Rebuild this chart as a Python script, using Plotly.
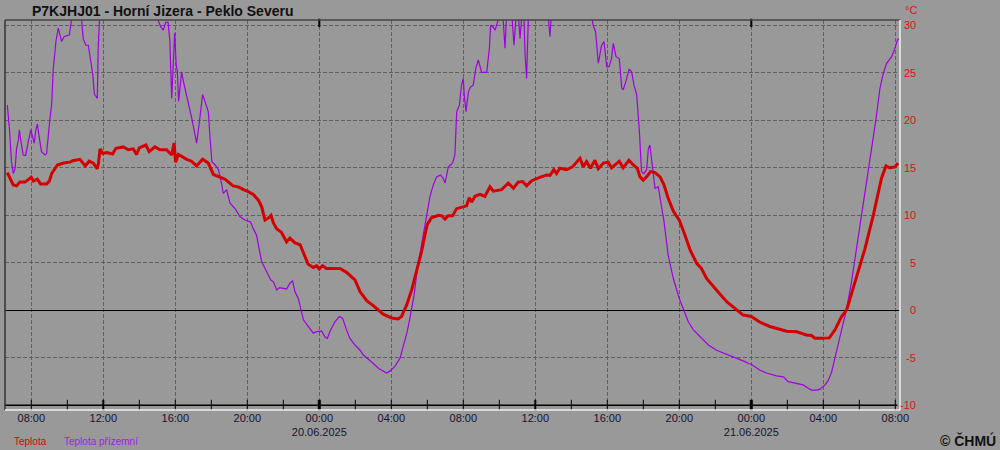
import plotly.graph_objects as go
import pandas as pd

# ---------------- data ----------------
title_text = "P7KJHJ01 - Horní Jizera - Peklo Severu"
series_names = ["Teplota", "Teplota přízemní"]

red_time = [
    "2025-06-19 06:40", "2025-06-19 06:49", "2025-06-19 07:00", "2025-06-19 07:11", "2025-06-19 07:22",
    "2025-06-19 07:39", "2025-06-19 07:50", "2025-06-19 08:00", "2025-06-19 08:07", "2025-06-19 08:20",
    "2025-06-19 08:31", "2025-06-19 08:51", "2025-06-19 09:00", "2025-06-19 09:08", "2025-06-19 09:27",
    "2025-06-19 09:47", "2025-06-19 10:09", "2025-06-19 10:18", "2025-06-19 10:42", "2025-06-19 11:00",
    "2025-06-19 11:13", "2025-06-19 11:27", "2025-06-19 11:40", "2025-06-19 11:44", "2025-06-19 11:49",
    "2025-06-19 11:58", "2025-06-19 12:11", "2025-06-19 12:31", "2025-06-19 12:42", "2025-06-19 13:07",
    "2025-06-19 13:23", "2025-06-19 13:40", "2025-06-19 13:51", "2025-06-19 14:00", "2025-06-19 14:22",
    "2025-06-19 14:33", "2025-06-19 14:52", "2025-06-19 15:09", "2025-06-19 15:31", "2025-06-19 15:48",
    "2025-06-19 15:56", "2025-06-19 16:01", "2025-06-19 16:10", "2025-06-19 16:21", "2025-06-19 16:38",
    "2025-06-19 16:54", "2025-06-19 17:11", "2025-06-19 17:31", "2025-06-19 17:50", "2025-06-19 18:07",
    "2025-06-19 18:29", "2025-06-19 18:46", "2025-06-19 19:13", "2025-06-19 19:30", "2025-06-19 19:47",
    "2025-06-19 20:00", "2025-06-19 20:20", "2025-06-19 20:37", "2025-06-19 20:48", "2025-06-19 20:59",
    "2025-06-19 21:10", "2025-06-19 21:19", "2025-06-19 21:27", "2025-06-19 21:38", "2025-06-19 21:54",
    "2025-06-19 22:11", "2025-06-19 22:22", "2025-06-19 22:39", "2025-06-19 22:56", "2025-06-19 23:12",
    "2025-06-19 23:23", "2025-06-19 23:40", "2025-06-19 23:51",
    "2025-06-20 00:00", "2025-06-20 00:11", "2025-06-20 00:24", "2025-06-20 00:41", "2025-06-20 01:09",
    "2025-06-20 01:31", "2025-06-20 01:59", "2025-06-20 02:16", "2025-06-20 02:39", "2025-06-20 03:00",
    "2025-06-20 03:17", "2025-06-20 03:33", "2025-06-20 04:01", "2025-06-20 04:23", "2025-06-20 04:34",
    "2025-06-20 04:51", "2025-06-20 05:08", "2025-06-20 05:24", "2025-06-20 05:41", "2025-06-20 05:52",
    "2025-06-20 06:00", "2025-06-20 06:14", "2025-06-20 06:37", "2025-06-20 06:48", "2025-06-20 06:59",
    "2025-06-20 07:10", "2025-06-20 07:24", "2025-06-20 07:38", "2025-06-20 08:00", "2025-06-20 08:11",
    "2025-06-20 08:20", "2025-06-20 08:28", "2025-06-20 08:39", "2025-06-20 08:56", "2025-06-20 09:12",
    "2025-06-20 09:29", "2025-06-20 09:40", "2025-06-20 10:08", "2025-06-20 10:30", "2025-06-20 10:47",
    "2025-06-20 11:03", "2025-06-20 11:18", "2025-06-20 11:31", "2025-06-20 11:48", "2025-06-20 12:15",
    "2025-06-20 12:38", "2025-06-20 12:49", "2025-06-20 13:02", "2025-06-20 13:11", "2025-06-20 13:22",
    "2025-06-20 13:44", "2025-06-20 14:04", "2025-06-20 14:29", "2025-06-20 14:40", "2025-06-20 14:51",
    "2025-06-20 15:04", "2025-06-20 15:19", "2025-06-20 15:30", "2025-06-20 15:47", "2025-06-20 16:03",
    "2025-06-20 16:14", "2025-06-20 16:40", "2025-06-20 16:53", "2025-06-20 17:12", "2025-06-20 17:27",
    "2025-06-20 17:40", "2025-06-20 17:49", "2025-06-20 18:00", "2025-06-20 18:11", "2025-06-20 18:24",
    "2025-06-20 18:39", "2025-06-20 18:56", "2025-06-20 19:09", "2025-06-20 19:23", "2025-06-20 19:40",
    "2025-06-20 20:00", "2025-06-20 20:19", "2025-06-20 20:36", "2025-06-20 20:58", "2025-06-20 21:14",
    "2025-06-20 21:31", "2025-06-20 21:53", "2025-06-20 22:16", "2025-06-20 22:38", "2025-06-20 23:11",
    "2025-06-20 23:33",
    "2025-06-21 00:00", "2025-06-21 00:29", "2025-06-21 01:02", "2025-06-21 01:36", "2025-06-21 01:58",
    "2025-06-21 02:31", "2025-06-21 03:04", "2025-06-21 03:21", "2025-06-21 03:32", "2025-06-21 04:00",
    "2025-06-21 04:20", "2025-06-21 04:39", "2025-06-21 05:01", "2025-06-21 05:18", "2025-06-21 05:34",
    "2025-06-21 05:57", "2025-06-21 06:19", "2025-06-21 06:47", "2025-06-21 07:03", "2025-06-21 07:14",
    "2025-06-21 07:29", "2025-06-21 07:42", "2025-06-21 07:59", "2025-06-21 08:09",
]
red_temp = [
    14.5, 13.9, 13.2, 13.1, 13.5,
    13.5, 13.8, 14.0, 13.6, 13.8,
    13.3, 13.3, 13.6, 14.4, 15.3,
    15.5, 15.6, 15.75, 15.9, 15.2,
    15.7, 15.5, 14.9, 15.5, 17.0,
    16.5, 16.6, 16.45, 17.05, 17.2,
    16.9, 17.0, 16.4, 17.1, 17.4,
    16.7, 17.2, 16.9, 16.9, 16.35,
    17.6, 15.6, 16.4, 16.2, 15.9,
    15.7, 15.2, 15.9, 15.5, 14.3,
    14.05, 13.8, 13.1, 13.0, 12.7,
    12.55, 12.2, 11.6, 10.9, 9.5,
    9.7, 10.0, 9.2, 8.6, 8.2,
    7.2, 7.6, 7.1, 6.9, 5.75,
    4.85, 4.5, 4.7,
    4.35, 4.7, 4.4, 4.4, 4.4,
    4.0, 3.2, 1.95, 1.0, 0.5,
    0.05, -0.4, -0.8, -0.9, -0.65,
    0.55, 2.15, 4.1, 6.2, 7.9,
    9.05, 9.75, 10.0, 9.95, 9.6,
    9.95, 9.95, 10.7, 10.9, 11.0,
    11.85, 11.4, 12.0, 12.2, 12.0,
    13.0, 12.55, 12.7, 13.4, 12.85,
    13.5, 13.55, 13.1, 13.65, 14.0,
    14.25, 14.2, 14.8, 14.4, 14.95,
    14.8, 15.1, 16.0, 15.1, 15.65,
    14.95, 15.8, 14.9, 15.5, 15.6,
    15.0, 15.7, 15.0, 15.8, 15.3,
    14.95, 14.05, 13.7, 14.05, 14.6,
    14.5, 14.05, 13.2, 11.8, 10.45,
    9.5, 7.9, 6.35, 4.95, 4.4,
    3.35, 2.5, 1.7, 0.9, 0.05,
    -0.5,
    -0.65, -1.25, -1.7, -2.05, -2.2,
    -2.25, -2.6, -2.65, -2.95, -2.95,
    -2.9, -2.05, -0.65, 0.05, 1.8,
    4.05, 6.5, 10.05, 12.5, 13.9,
    15.2, 15.0, 15.1, 15.5,
]

purple_time = [
    "2025-06-19 06:40", "2025-06-19 06:47", "2025-06-19 06:54", "2025-06-19 07:00", "2025-06-19 07:06",
    "2025-06-19 07:11", "2025-06-19 07:17", "2025-06-19 07:20", "2025-06-19 07:25", "2025-06-19 07:33",
    "2025-06-19 07:41", "2025-06-19 07:50", "2025-06-19 07:58", "2025-06-19 08:03", "2025-06-19 08:10",
    "2025-06-19 08:14", "2025-06-19 08:20", "2025-06-19 08:27", "2025-06-19 08:34", "2025-06-19 08:46",
    "2025-06-19 08:51", "2025-06-19 09:00", "2025-06-19 09:08", "2025-06-19 09:13", "2025-06-19 09:22",
    "2025-06-19 09:30", "2025-06-19 09:36", "2025-06-19 09:41", "2025-06-19 09:49", "2025-06-19 10:07",
    "2025-06-19 10:14", "2025-06-19 10:26", "2025-06-19 10:40", "2025-06-19 10:48", "2025-06-19 10:53",
    "2025-06-19 11:02", "2025-06-19 11:10", "2025-06-19 11:16", "2025-06-19 11:25", "2025-06-19 11:30",
    "2025-06-19 11:40", "2025-06-19 11:43", "2025-06-19 11:47", "2025-06-19 12:00", "2025-06-19 13:00",
    "2025-06-19 14:00", "2025-06-19 14:55", "2025-06-19 15:03", "2025-06-19 15:12", "2025-06-19 15:20",
    "2025-06-19 15:28", "2025-06-19 15:36", "2025-06-19 15:42", "2025-06-19 15:48", "2025-06-19 15:53",
    "2025-06-19 15:58", "2025-06-19 16:03", "2025-06-19 16:07", "2025-06-19 16:11", "2025-06-19 16:16",
    "2025-06-19 16:21", "2025-06-19 16:27", "2025-06-19 16:36", "2025-06-19 16:47", "2025-06-19 16:55",
    "2025-06-19 17:06", "2025-06-19 17:11", "2025-06-19 17:19", "2025-06-19 17:26", "2025-06-19 17:31",
    "2025-06-19 17:39", "2025-06-19 17:50", "2025-06-19 17:56", "2025-06-19 18:02", "2025-06-19 18:13",
    "2025-06-19 18:24", "2025-06-19 18:35", "2025-06-19 18:40", "2025-06-19 18:51", "2025-06-19 19:02",
    "2025-06-19 19:19", "2025-06-19 19:36", "2025-06-19 19:52", "2025-06-19 20:11", "2025-06-19 20:20",
    "2025-06-19 20:31", "2025-06-19 20:48", "2025-06-19 21:04", "2025-06-19 21:18", "2025-06-19 21:27",
    "2025-06-19 21:38", "2025-06-19 21:47", "2025-06-19 22:00", "2025-06-19 22:11", "2025-06-19 22:22",
    "2025-06-19 22:31", "2025-06-19 22:39", "2025-06-19 22:50", "2025-06-19 23:07", "2025-06-19 23:23",
    "2025-06-19 23:40", "2025-06-19 23:51",
    "2025-06-20 00:08", "2025-06-20 00:19", "2025-06-20 00:27", "2025-06-20 00:35", "2025-06-20 00:52",
    "2025-06-20 01:07", "2025-06-20 01:18", "2025-06-20 01:29", "2025-06-20 01:42", "2025-06-20 01:59",
    "2025-06-20 02:16", "2025-06-20 02:27", "2025-06-20 02:43", "2025-06-20 03:00", "2025-06-20 03:17",
    "2025-06-20 03:33", "2025-06-20 03:44", "2025-06-20 03:55", "2025-06-20 04:12", "2025-06-20 04:29",
    "2025-06-20 04:42", "2025-06-20 04:53", "2025-06-20 05:04", "2025-06-20 05:16", "2025-06-20 05:27",
    "2025-06-20 05:39", "2025-06-20 05:49", "2025-06-20 05:58", "2025-06-20 06:09", "2025-06-20 06:20",
    "2025-06-20 06:31", "2025-06-20 06:44", "2025-06-20 06:53", "2025-06-20 06:59", "2025-06-20 07:10",
    "2025-06-20 07:24", "2025-06-20 07:32", "2025-06-20 07:38", "2025-06-20 07:47", "2025-06-20 07:54",
    "2025-06-20 08:00", "2025-06-20 08:03", "2025-06-20 08:09", "2025-06-20 08:17", "2025-06-20 08:24",
    "2025-06-20 08:33", "2025-06-20 08:42", "2025-06-20 08:50", "2025-06-20 09:01", "2025-06-20 09:18",
    "2025-06-20 09:27", "2025-06-20 09:31", "2025-06-20 09:40", "2025-06-20 09:46", "2025-06-20 10:00",
    "2025-06-20 10:10", "2025-06-20 10:19", "2025-06-20 10:24", "2025-06-20 10:40", "2025-06-20 10:49",
    "2025-06-20 10:56", "2025-06-20 11:05", "2025-06-20 11:09", "2025-06-20 11:15", "2025-06-20 11:22",
    "2025-06-20 11:26", "2025-06-20 11:31", "2025-06-20 11:37", "2025-06-20 12:00", "2025-06-20 12:40",
    "2025-06-20 12:49", "2025-06-20 12:55", "2025-06-20 13:30", "2025-06-20 14:30", "2025-06-20 15:07",
    "2025-06-20 15:13", "2025-06-20 15:21", "2025-06-20 15:30", "2025-06-20 15:41", "2025-06-20 15:49",
    "2025-06-20 15:58", "2025-06-20 16:06", "2025-06-20 16:14", "2025-06-20 16:20", "2025-06-20 16:29",
    "2025-06-20 16:40", "2025-06-20 16:48", "2025-06-20 16:53", "2025-06-20 17:02", "2025-06-20 17:13",
    "2025-06-20 17:21", "2025-06-20 17:29", "2025-06-20 17:38", "2025-06-20 17:47", "2025-06-20 17:54",
    "2025-06-20 18:02", "2025-06-20 18:11", "2025-06-20 18:17", "2025-06-20 18:22", "2025-06-20 18:31",
    "2025-06-20 18:39", "2025-06-20 18:50", "2025-06-20 18:58", "2025-06-20 19:09", "2025-06-20 19:23",
    "2025-06-20 19:40", "2025-06-20 20:00", "2025-06-20 20:16", "2025-06-20 20:30", "2025-06-20 20:47",
    "2025-06-20 21:09", "2025-06-20 21:37", "2025-06-20 22:04", "2025-06-20 22:38", "2025-06-20 23:11",
    "2025-06-20 23:39", "2025-06-20 23:50",
    "2025-06-21 00:01", "2025-06-21 00:29", "2025-06-21 00:51", "2025-06-21 01:24", "2025-06-21 01:47",
    "2025-06-21 02:03", "2025-06-21 02:31", "2025-06-21 02:53", "2025-06-21 03:10", "2025-06-21 03:21",
    "2025-06-21 03:38", "2025-06-21 03:49", "2025-06-21 04:06", "2025-06-21 04:17", "2025-06-21 04:28",
    "2025-06-21 04:44", "2025-06-21 05:01", "2025-06-21 05:18", "2025-06-21 05:34", "2025-06-21 05:51",
    "2025-06-21 06:08", "2025-06-21 06:24", "2025-06-21 06:41", "2025-06-21 06:56", "2025-06-21 07:09",
    "2025-06-21 07:20", "2025-06-21 07:31", "2025-06-21 07:48", "2025-06-21 07:59", "2025-06-21 08:07",
    "2025-06-21 08:12",
]
purple_temp = [
    21.6, 19.2, 15.6, 14.4, 14.95,
    17.05, 17.9, 19.0, 17.9, 16.35,
    16.3, 17.75, 19.0, 18.45, 17.6,
    18.8, 19.6, 18.1, 16.7, 16.35,
    16.5, 19.5, 21.8, 25.3, 28.3,
    29.7, 28.8, 28.3, 28.8, 29.0,
    30.6, 32.5, 32.0, 30.5, 28.6,
    27.9, 27.9, 26.5, 24.8, 22.8,
    22.3, 27.6, 30.4, 33.0, 33.0,
    33.0, 32.0, 30.5, 29.8, 29.5,
    30.3, 30.3, 28.3, 22.3, 25.8,
    29.2, 25.8, 25.1, 22.0, 23.7,
    25.1, 24.1, 22.7, 21.3, 20.2,
    18.45, 17.6, 19.5, 21.6, 22.7,
    22.0, 20.9, 18.1, 15.65, 15.3,
    14.8, 13.2, 12.3, 12.7, 11.3,
    10.7, 9.85, 9.5, 9.3, 8.6,
    7.9, 5.1, 4.05, 3.2, 3.0,
    2.15, 2.4, 2.3, 2.25, 2.85,
    3.1, 1.95, 1.25, -1.0, -1.7,
    -2.4, -2.25,
    -2.2, -2.8, -2.95, -2.25, -1.2,
    -0.65, -0.85, -1.9, -2.95, -3.65,
    -4.2, -4.7, -5.1, -5.6, -6.1,
    -6.45, -6.6, -6.4, -5.9, -5.05,
    -3.65, -2.25, -0.5, 1.6, 4.4,
    6.5, 8.3, 10.05, 12.0, 13.2,
    14.05, 14.25, 13.9, 13.4, 15.1,
    15.5, 16.35, 20.9, 21.6, 23.7,
    24.4, 22.7, 20.9, 23.0, 23.5,
    23.7, 25.5, 26.35, 25.05, 25.05,
    27.6, 30.0, 29.8, 29.5, 30.8,
    32.0, 27.6, 31.0, 32.0, 27.9,
    31.0, 30.5, 28.6, 31.0, 31.0,
    26.9, 24.4, 31.0, 33.0, 32.0,
    28.8, 32.0, 33.0, 33.0, 31.0,
    30.0, 29.3, 26.0, 27.9, 28.3,
    25.65, 25.65, 26.5, 28.1, 26.7,
    26.5, 23.4, 23.2, 24.1, 25.4,
    25.1, 23.7, 22.7, 18.8, 14.6,
    14.4, 14.8, 17.05, 17.4, 15.3,
    12.85, 13.0, 11.45, 9.35, 5.8,
    3.35, 1.25, 0.05, -1.2, -2.05,
    -2.8, -3.65, -4.2, -4.6, -5.05,
    -5.4, -5.6,
    -5.7, -6.3, -6.6, -6.9, -7.0,
    -7.5, -7.7, -7.85, -8.2, -8.4,
    -8.4, -8.3, -7.85, -7.35, -6.45,
    -4.35, -2.25, 0.2, 3.0, 6.5,
    10.05, 13.55, 17.05, 20.2, 23.4,
    24.95, 26.0, 26.7, 27.6, 28.45,
    28.6,
]

x_tick_vals = [
    "2025-06-19 08:00", "2025-06-19 12:00", "2025-06-19 16:00", "2025-06-19 20:00",
    "2025-06-20 00:00", "2025-06-20 04:00", "2025-06-20 08:00", "2025-06-20 12:00",
    "2025-06-20 16:00", "2025-06-20 20:00", "2025-06-21 00:00", "2025-06-21 04:00",
    "2025-06-21 08:00",
]
x_tick_text = [
    "08:00", "12:00", "16:00", "20:00", "00:00<br>20.06.2025", "04:00", "08:00",
    "12:00", "16:00", "20:00", "00:00<br>21.06.2025", "04:00", "08:00",
]
y_ticks = [30, 25, 20, 15, 10, 5, 0, -5, -10]
y_unit = "°C"
x_range = ["2025-06-19 06:32:20", "2025-06-21 08:15:40"]
y_range = [-10.49, 30.56]

# ---------------- style ----------------
BG = "#999999"
GRID = "#606060"
RED = "#d40000"
PURPLE = "#a000e0"
LABEL_RED = "#dd1111"
FONT = "Liberation Sans, Arial, sans-serif"

fig = go.Figure()

fig.add_trace(go.Scatter(
    x=purple_time, y=purple_temp, mode="lines", name=series_names[1],
    line=dict(color=PURPLE, width=1.2), hoverinfo="skip",
))
fig.add_trace(go.Scatter(
    x=red_time, y=red_temp, mode="lines", name=series_names[0],
    line=dict(color=RED, width=3), hoverinfo="skip",
))

# bottom time axis (line at -10 with 2-hour ticks)
minor_ticks = pd.date_range("2025-06-19 08:00", "2025-06-21 08:00", freq="2h")
tick_w = [3 if t.hour == 0 else (2 if t.hour == 12 else 1) for t in minor_ticks]
fig.add_trace(go.Scatter(
    x=minor_ticks, y=[y_ticks[-1]] * len(minor_ticks), mode="markers",
    marker=dict(symbol="line-ns", size=8, line=dict(color="black", width=tick_w)),
    hoverinfo="skip", cliponaxis=False,
))
midnights = [t for t in minor_ticks if t.hour == 0]
fig.add_trace(go.Scatter(
    x=midnights, y=[y_ticks[0] + 0.25] * len(midnights), mode="markers",
    marker=dict(symbol="line-ns", size=6, line=dict(color="black", width=2)),
    hoverinfo="skip", cliponaxis=False,
))

shapes = [
    # axis line at -10
    dict(type="line", xref="paper", yref="y", x0=0, x1=0.997, y0=-10, y1=-10,
         line=dict(color="black", width=1.5), layer="above"),
    # frame
    dict(type="line", xref="paper", yref="paper", x0=0, x1=0, y0=0, y1=1,
         line=dict(color="#333333", width=1.5), layer="above"),
    dict(type="line", xref="paper", yref="paper", x0=0, x1=1, y0=1, y1=1,
         line=dict(color="#444444", width=1.5), layer="above"),
    dict(type="line", xref="paper", yref="paper", x0=1, x1=1, y0=0, y1=1,
         line=dict(color="#f0f0f0", width=1.5), layer="above"),
    dict(type="line", xref="paper", yref="paper", x0=0, x1=1, y0=0, y1=0,
         line=dict(color="#f0f0f0", width=1.5), layer="above"),
]

annotations = []
for v in y_ticks:
    annotations.append(dict(
        x=1, xref="paper", y=v, yref="y", text=str(v), showarrow=False,
        xanchor="right", yanchor="middle", xshift=18,
        font=dict(family=FONT, size=11, color=LABEL_RED),
    ))
annotations.append(dict(
    x=1, xref="paper", y=1, yref="paper", text=y_unit, showarrow=False,
    xanchor="right", yanchor="middle", xshift=19, yshift=10,
    font=dict(family=FONT, size=11, color=LABEL_RED),
))
annotations.append(dict(
    x=0.0078, xref="paper", y=-0.081, yref="paper", text=series_names[0], showarrow=False,
    xanchor="left", yanchor="middle", font=dict(family=FONT, size=10, color="#e00000"),
))
annotations.append(dict(
    x=0.0637, xref="paper", y=-0.081, yref="paper", text=series_names[1], showarrow=False,
    xanchor="left", yanchor="middle", font=dict(family=FONT, size=10, color="#a020e8"),
))
annotations.append(dict(
    x=1.1095, xref="paper", y=-0.079, yref="paper", text="<b>© ČHMÚ</b>", showarrow=False,
    xanchor="right", yanchor="middle", font=dict(family=FONT, size=14, color="#111111"),
))

fig.update_layout(
    width=1000, height=450,
    margin=dict(l=5, r=100, t=20, b=40, autoexpand=False),
    paper_bgcolor=BG, plot_bgcolor=BG,
    showlegend=False,
    hovermode=False,
    title=dict(text="<b>" + title_text + "</b>", x=0.032, xanchor="left",
               y=1 - 11 / 450, yanchor="middle", yref="container",
               font=dict(family=FONT, size=14, color="#111111")),
    shapes=shapes,
    annotations=annotations,
    font=dict(family=FONT),
)
fig.update_xaxes(
    type="date", range=x_range, tickvals=x_tick_vals, ticktext=x_tick_text,
    showgrid=True, gridcolor=GRID, griddash="4px,2px", gridwidth=1,
    ticks="", showline=False, zeroline=False,
    tickfont=dict(family=FONT, size=11, color="#141432"),
)
fig.update_yaxes(
    range=y_range, tickvals=y_ticks, showticklabels=False,
    showgrid=True, gridcolor=GRID, griddash="4px,2px", gridwidth=1,
    zeroline=True, zerolinecolor="black", zerolinewidth=1, showline=False, ticks="",
)

fig.write_html(
    "out.html",
    config={"displayModeBar": False},
    post_script="document.body.style.margin='0';document.body.style.background='#999999';",
)
